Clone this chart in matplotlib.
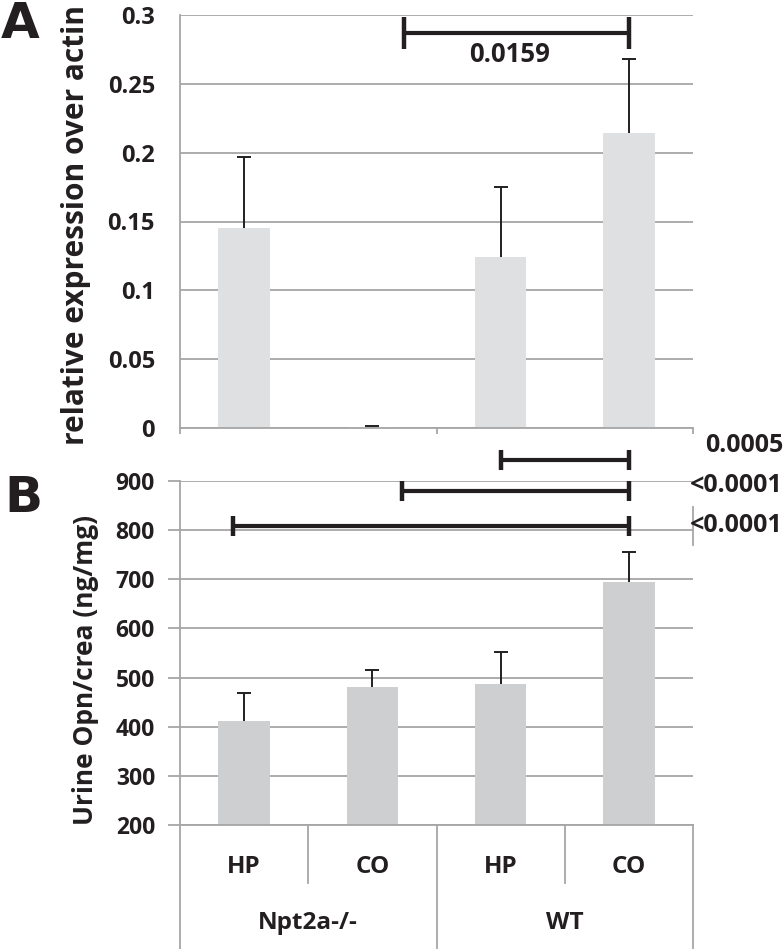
import matplotlib
matplotlib.use("Agg")
import matplotlib.pyplot as plt
from matplotlib.lines import Line2D

plt.rcParams['font.family'] = ['Open Sans', 'DejaVu Sans']
plt.rcParams['font.weight'] = 'bold'

# ---------------- data ----------------
categories = ["HP", "CO", "HP", "CO"]
groups = ["Npt2a-/-", "WT"]

expr_mean = [0.145, 0.0005, 0.124, 0.214]
expr_err = [0.052, 0.0008, 0.051, 0.054]

opn_mean = [412, 481, 486, 695]
opn_err = [57, 34, 67, 60]

# comparisons: (label, x_start, x_end, y)
comp_a = [("0.0159", 1.25, 3.0, 0.2867)]
comp_b = [("0.0005", 2.0, 3.0, 943),
          ("<0.0001", 1.23, 3.0, 880),
          ("<0.0001", -0.09, 3.0, 808)]

yticks_a = [0, 0.05, 0.1, 0.15, 0.2, 0.25, 0.3]
ytick_labels_a = ["0", "0.05", "0.1", "0.15", "0.2", "0.25", "0.3"]
yticks_b = [200, 300, 400, 500, 600, 700, 800, 900]

# ---------------- style ----------------
W, H = 784, 949
GRID = '#a6a6a6'
BAR_A = '#dfe0e2'
BAR_B = '#cdcfd1'
DARK = '#231f20'

fig = plt.figure(figsize=(W / 100, H / 100), dpi=100)


def px_axes(l, t, r, b):
    return fig.add_axes([l / W, 1 - b / H, (r - l) / W, (b - t) / H])


axA = px_axes(180, 15, 693, 428)
axB = px_axes(180, 481, 693, 825)

x = list(range(len(categories)))

for ax in (axA, axB):
    ax.set_xlim(-0.5, 3.5)
    ax.set_axisbelow(True)
    ax.yaxis.grid(True, color=GRID, lw=1.3)
    for s in ('top', 'right'):
        ax.spines[s].set_visible(False)
    for s in ('left', 'bottom'):
        ax.spines[s].set_color(GRID)
        ax.spines[s].set_linewidth(1.3)
    ax.set_facecolor('none')


def upper_err(ax, xs, means, errs):
    tops = [m + e for m, e in zip(means, errs)]
    ax.vlines(xs, means, tops, color=DARK, lw=1.4, zorder=3)
    ax.plot(xs, tops, ls='none', marker='_', ms=10, mew=1.4, color=DARK,
            zorder=3)


# ---------- Panel A ----------
axA.bar(x, expr_mean, width=0.4, color=BAR_A, zorder=2)
upper_err(axA, x, expr_mean, expr_err)
axA.set_ylim(0, 0.3)
axA.set_yticks(yticks_a)
axA.set_yticklabels(ytick_labels_a)
axA.tick_params(axis='y', length=0, pad=18, labelsize=17, labelcolor=DARK)
axA.set_xticks([-0.5, 1.5, 3.5])
axA.set_xticklabels([])
axA.tick_params(axis='x', length=4, color=GRID, width=1.3, direction='out')
fig.text(76 / W, 1 - 225 / H, "relative expression over actin", rotation=90,
         ha='center', va='center', fontsize=21.5, color=DARK,
         fontweight='bold')

for lab, x0, x1, y in comp_a:
    axA.plot([x0, x1], [y, y], color=DARK, lw=3, clip_on=False, zorder=5,
             solid_capstyle='butt')
    axA.plot([x0, x1], [y, y], ls='none', marker='|', ms=23, mew=3.2,
             color=DARK, clip_on=False, zorder=5)
    axA.text(2.07, y - 0.0155, lab, ha='center', va='center', fontsize=18.5,
             color=DARK, fontweight='bold')

# ---------- Panel B ----------
axB.bar(x, [m - 200 for m in opn_mean], bottom=200, width=0.4, color=BAR_B,
        zorder=2)
upper_err(axB, x, opn_mean, opn_err)
axB.set_ylim(200, 900)
axB.set_yticks(yticks_b)
axB.tick_params(axis='y', length=9, color=GRID, width=1.3, pad=9,
                labelsize=16.5, labelcolor=DARK)
axB.set_xticks([])
fig.text(86 / W, 1 - 670 / H, "Urine Opn/crea (ng/mg)", rotation=90,
         ha='center', va='center', fontsize=19, color=DARK,
         fontweight='bold')

lab_pix_y = [445, 485, 526]
for (lab, x0, x1, y), ly in zip(comp_b, lab_pix_y):
    axB.plot([x0, x1], [y, y], color=DARK, lw=3, clip_on=False, zorder=5,
             solid_capstyle='butt')
    axB.plot([x0, x1], [y, y], ls='none', marker='|', ms=15, mew=3.2,
             color=DARK, clip_on=False, zorder=5)
    fig.text(783 / W, 1 - ly / H, lab, ha='right', va='center', fontsize=18,
             color=DARK, fontweight='bold')

# short gray vertical seen in reference
fig.add_artist(Line2D([693 / W, 693 / W], [1 - 507 / H, 1 - 545 / H],
                      color=GRID, lw=1.3))

# category axis below panel B
tr = axB.get_xaxis_transform()
y_cat_sep = (825 - 883) / 344
y_bottom = (825 - 949) / 344
for xs in (0.5, 2.5):
    axB.plot([xs, xs], [0, y_cat_sep], transform=tr, color=GRID, lw=1.3,
             clip_on=False)
for xs in (-0.5, 1.5, 3.5):
    axB.plot([xs, xs], [0, y_bottom], transform=tr, color=GRID, lw=1.3,
             clip_on=False)
y_cat_lab = (825 - 867) / 344
y_grp_lab = (825 - 923) / 344
for xi, c in zip(x, categories):
    axB.text(xi, y_cat_lab, c, transform=tr, ha='center', va='center',
             fontsize=17.5, color=DARK, fontweight='bold')
for gi, g in enumerate(groups):
    axB.text(gi * 2 + 0.5, y_grp_lab, g, transform=tr, ha='center',
             va='center', fontsize=17.5, color=DARK, fontweight='bold')

# panel letters
fig.text(1 / W, 1 - 24 / H, "A", ha='left', va='center', fontsize=36,
         color=DARK, fontweight='bold', family='DejaVu Sans')
fig.text(4 / W, 1 - 498 / H, "B", ha='left', va='center', fontsize=36,
         color=DARK, fontweight='bold', family='DejaVu Sans')

fig.savefig("out.png", dpi=100)
